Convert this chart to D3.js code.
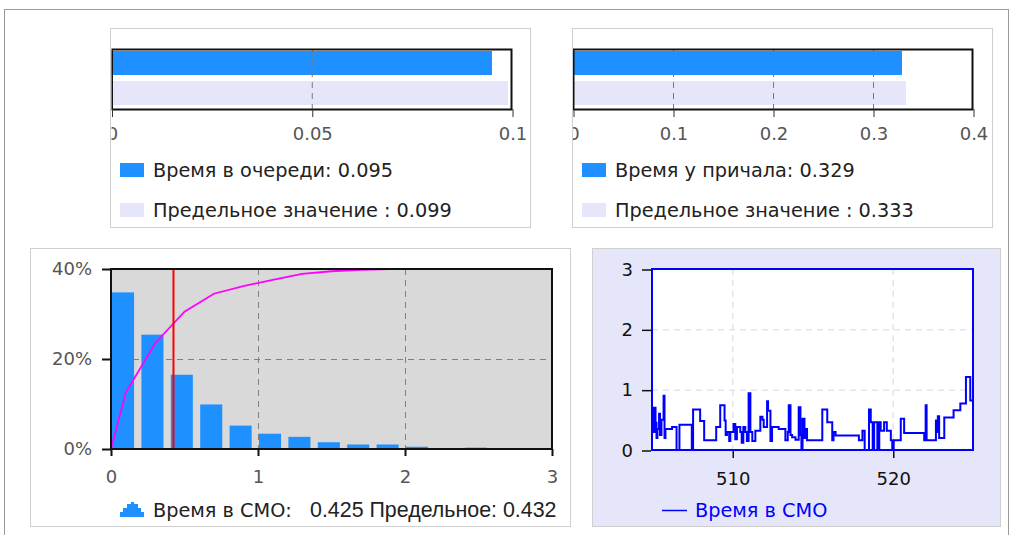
<!DOCTYPE html>
<html><head><meta charset="utf-8">
<script src="https://cdn.jsdelivr.net/npm/d3@7"></script>
<style>
html,body{margin:0;padding:0;background:#fff;}
svg{display:block;}
text{font-family:"DejaVu Sans",sans-serif;}
</style></head>
<body><svg id="c" width="1016" height="535"></svg>
<script>
// ---------- DATA ----------
const queueNames = ["Время в очереди", "Предельное значение "];
const queueValues = [0.095, 0.099];
const queueTicks = [0, 0.05, 0.1];

const berthNames = ["Время у причала", "Предельное значение "];
const berthValues = [0.329, 0.333];
const berthTicks = [0, 0.1, 0.2, 0.3, 0.4];

const histBinStart = [0, 0.2, 0.4, 0.6, 0.8, 1.0, 1.2, 1.4, 1.6, 1.8, 2.0, 2.2, 2.4, 2.6, 2.8];
const histPercent  = [34.8, 25.4, 16.5, 9.9, 5.2, 3.4, 2.7, 1.5, 1.0, 1.0, 0.5, 0, 0.3, 0.2, 0];
const cdfX = [0, 0.1, 0.3, 0.5, 0.7, 0.9, 1.1, 1.3, 1.5, 1.7, 1.9, 2.0];
const cdfY = [0, 12.5, 23.5, 30.5, 34.5, 36.2, 37.6, 38.9, 39.5, 39.8, 40, 40];
const histXTicks = [0, 1, 2, 3];
const histYTicks = [0, 20, 40];
const sojournMean = 0.425;
const sojournLimit = 0.432;

const seriesName = "Время в СМО";
const seriesT = [505.00,505.06,505.16,505.22,505.28,505.34,505.44,505.50,505.59,505.72,505.78,505.84,506.25,506.53,506.71,507.48,507.56,508.00,508.25,509.00,509.25,509.52,509.59,509.67,509.81,509.88,510.08,510.19,510.29,510.50,510.59,510.69,510.81,510.91,511.02,511.13,511.25,511.44,511.75,511.88,511.96,512.17,512.23,512.38,512.48,512.89,513.31,513.46,513.52,513.63,513.73,513.94,514.14,514.25,514.31,514.38,514.50,514.56,514.66,515.61,515.92,516.23,516.31,516.44,517.89,518.11,518.25,518.52,518.63,518.75,518.84,519.04,519.16,519.25,519.46,519.63,519.88,519.97,520.06,520.50,520.71,521.96,522.05,522.11,522.69,522.75,522.81,522.89,523.21,523.79,524.21,524.56,524.83,525.00];
const seriesV = [0.7,0.3,0.7,0.45,0.2,0.35,0.6,0.25,0.5,0.9,0.2,0.35,0.38,0.0,0.42,0.0,0.67,0.48,0.16,0.38,0.74,0.49,0.25,0.3,0.15,0.3,0.43,0.18,0.38,0.3,0.12,0.38,0.3,0.15,0.94,0.3,0.15,0.32,0.55,0.5,0.38,0.81,0.65,0.15,0.38,0.35,0.16,0.3,0.74,0.25,0.21,0.17,0.71,0.25,0.0,0.52,0.2,0.35,0.16,0.67,0.46,0.16,0.3,0.24,0.16,0.32,0.0,0.67,0.46,0.0,0.46,0.0,0.46,0.32,0.46,0.32,0.16,0.0,0.16,0.52,0.28,0.16,0.74,0.16,0.49,0.3,0.56,0.2,0.54,0.66,0.77,1.21,0.82,0.82];
const lineXTicks = [510, 520];
const lineYTicks = [0, 1, 2, 3];

// ---------- DRAW ----------
const svg = d3.select("#c");
const FS = 18, LFS = 19.3;
const BLUE = "#1e90ff", LAV = "#e6e6fa";

svg.append("rect").attr("x",4.5).attr("y",9.5).attr("width",1004).attr("height",540)
  .attr("fill","none").attr("stroke","#9a9a9a");

function barPanel(id, px, names, values, ticks, plot, legendLabels) {
  const g = svg.append("g");
  g.append("rect").attr("x",px.x+0.5).attr("y",px.y+0.5).attr("width",px.w).attr("height",px.h)
    .attr("fill","#fff").attr("stroke","#cfcfcf");
  svg.append("clipPath").attr("id",id).append("rect")
    .attr("x",plot.x0).attr("y",px.y).attr("width",px.x+px.w-plot.x0).attr("height",px.h);
  const cg = g.append("g").attr("clip-path",`url(#${id})`);
  const x = d3.scaleLinear().domain([ticks[0], ticks[ticks.length-1]]).range([plot.x0, plot.x1]);
  const y = d3.scaleBand().domain(names.map((d,i)=>i)).range([plot.y0-1, plot.y1-1]).paddingInner(0.2).paddingOuter(0.1);
  cg.selectAll("rect.bar").data(values).join("rect").attr("class","bar")
    .attr("x",x(0)).attr("y",(d,i)=>y(i)).attr("width",d=>x(d)-x(0)).attr("height",y.bandwidth())
    .attr("fill",(d,i)=>i===0?BLUE:LAV);
  cg.selectAll("line.grid").data(ticks.slice(1,-1)).join("line").attr("class","grid")
    .attr("x1",d=>x(d)+0.5).attr("x2",d=>x(d)+0.5).attr("y1",plot.y0).attr("y2",plot.y1)
    .attr("stroke","#7a7a7a").attr("stroke-dasharray","6,5");
  cg.append("rect").attr("x",plot.x0+0.5).attr("y",plot.y0+0.5).attr("width",plot.x1-plot.x0-1).attr("height",plot.y1-plot.y0)
    .attr("fill","none").attr("stroke","#111").attr("stroke-width",2);
  const ax = cg.append("g").attr("transform",`translate(0.5,${plot.y1})`)
    .call(d3.axisBottom(x).tickValues(ticks).tickFormat(d3.format("~g")).tickSize(8).tickPadding(10));
  ax.select(".domain").remove();
  ax.selectAll("line").attr("stroke","#333");
  ax.selectAll("text").attr("font-size",FS).attr("fill","#555").attr("font-family","DejaVu Sans");
  // legend
  legendLabels.forEach((lab,i)=>{
    const ly = px.y + 135 + i*40;
    g.append("rect").attr("x",px.x+10).attr("y",ly).attr("width",24).attr("height",14).attr("fill",i===0?BLUE:LAV);
    g.append("text").attr("x",px.x+43).attr("y",ly+14).attr("font-size",LFS).attr("fill","#222").text(lab);
  });
}

barPanel("clipQ", {x:110,y:28,w:420,h:199}, queueNames, queueValues, queueTicks,
  {x0:111.5, x1:512, y0:49, y1:109},
  queueNames.map((n,i)=>`${n}: ${d3.format(".3f")(queueValues[i])}`));
barPanel("clipB", {x:572,y:28,w:420,h:199}, berthNames, berthValues, berthTicks,
  {x0:573, x1:973, y0:49, y1:109},
  berthNames.map((n,i)=>`${n}: ${d3.format(".3f")(berthValues[i])}`));

// ---------- HISTOGRAM ----------
(function(){
  const P = {x0:111, x1:552, y0:269, y1:449};
  const g = svg.append("g");
  g.append("rect").attr("x",30.5).attr("y",248.5).attr("width",540).attr("height",278)
    .attr("fill","#fff").attr("stroke","#cfcfcf");
  const x = d3.scaleLinear().domain([0,3]).range([P.x0,P.x1]);
  const y = d3.scaleLinear().domain([0,40]).range([P.y1,P.y0]);
  g.append("rect").attr("x",P.x0).attr("y",P.y0).attr("width",P.x1-P.x0).attr("height",P.y1-P.y0).attr("fill","#d9d9d9");
  // grid
  g.selectAll("line.gx").data([1,2]).join("line").attr("x1",d=>x(d)+0.5).attr("x2",d=>x(d)+0.5)
    .attr("y1",P.y0).attr("y2",P.y1).attr("stroke","#808080").attr("stroke-dasharray","6,5");
  g.selectAll("line.gy").data([20]).join("line").attr("x1",P.x0).attr("x2",P.x1)
    .attr("y1",d=>y(d)+0.5).attr("y2",d=>y(d)+0.5).attr("stroke","#808080").attr("stroke-dasharray","6,5");
  // bars
  const bw = x(0.15)-x(0);
  g.selectAll("rect.bar").data(histPercent).join("rect").attr("class","bar")
    .attr("x",(d,i)=>x(histBinStart[i])+1).attr("width",bw)
    .attr("y",d=>y(d)).attr("height",d=>y(0)-y(d)).attr("fill",BLUE);
  // cdf line
  g.append("path").datum(cdfX.map((v,i)=>[v,cdfY[i]]))
    .attr("d",d3.line().x(d=>x(d[0])).y(d=>y(d[1])))
    .attr("fill","none").attr("stroke","#ff00ff").attr("stroke-width",1.8);
  // mean
  g.append("line").attr("x1",x(sojournMean)).attr("x2",x(sojournMean)).attr("y1",P.y0).attr("y2",P.y1)
    .attr("stroke","#ff0000").attr("stroke-width",2);
  g.append("rect").attr("x",P.x0).attr("y",P.y0).attr("width",P.x1-P.x0).attr("height",P.y1-P.y0)
    .attr("fill","none").attr("stroke","#111").attr("stroke-width",2);
  const ax = g.append("g").attr("transform",`translate(0,${P.y1})`)
    .call(d3.axisBottom(x).tickValues(histXTicks).tickFormat(d3.format("d")).tickSize(7).tickPadding(14));
  ax.select(".domain").remove();
  ax.selectAll("line").attr("stroke","#111").attr("stroke-width",2);
  ax.selectAll("text").attr("font-size",FS).attr("fill","#555").attr("font-family","DejaVu Sans");
  const ay = g.append("g").attr("transform",`translate(${P.x0},0)`)
    .call(d3.axisLeft(y).tickValues(histYTicks).tickFormat(d=>d+"%").tickSize(9).tickPadding(10));
  ay.select(".domain").remove();
  ay.selectAll("line").attr("stroke","#111").attr("stroke-width",2);
  ay.selectAll("text").attr("font-size",FS).attr("fill","#555").attr("font-family","DejaVu Sans");
  // legend
  g.append("path").attr("d","M120,517L120,512L123,512L123,508L127,508L127,504L131,504L131,502L134,502L134,504L138,504L138,508L141,508L141,512L144,512L144,517Z")
    .attr("fill",BLUE);
  g.append("text").attr("x",153).attr("y",517).attr("font-size",LFS).attr("fill","#222").text(seriesName + ":");
  g.append("text").attr("x",310).attr("y",517).attr("font-size",21.4).attr("fill","#222")
    .attr("style","font-family:'Liberation Sans',Arial,sans-serif")
    .text(`${d3.format(".3f")(sojournMean)} Предельное: ${d3.format(".3f")(sojournLimit)}`);
})();

// ---------- LINE CHART ----------
(function(){
  const P = {x0:652, x1:973, y0:269, y1:450};
  const g = svg.append("g");
  g.append("rect").attr("x",592.5).attr("y",248.5).attr("width",408).attr("height",278)
    .attr("fill",LAV).attr("stroke","#cfcfcf");
  const x = d3.scaleLinear().domain([505,525]).range([P.x0,P.x1]);
  const y = d3.scaleLinear().domain([0,3]).range([P.y1,P.y0]);
  g.append("rect").attr("x",P.x0).attr("y",P.y0).attr("width",P.x1-P.x0).attr("height",P.y1-P.y0).attr("fill","#fff");
  g.selectAll("line.gx").data(lineXTicks).join("line").attr("x1",d=>x(d)+0.5).attr("x2",d=>x(d)+0.5)
    .attr("y1",P.y0).attr("y2",P.y1).attr("stroke","#dfe4ee").attr("stroke-width",1.5).attr("stroke-dasharray","6,5");
  g.selectAll("line.gy").data([1,2]).join("line").attr("x1",P.x0).attr("x2",P.x1)
    .attr("y1",d=>y(d)+0.5).attr("y2",d=>y(d)+0.5).attr("stroke","#dfe4ee").attr("stroke-width",1.5).attr("stroke-dasharray","6,5");
  g.append("path").datum(seriesT.map((t,i)=>[t,seriesV[i]]))
    .attr("d",d3.line().x(d=>x(d[0])).y(d=>y(d[1])).curve(d3.curveStepAfter))
    .attr("fill","none").attr("stroke","#0000ff").attr("stroke-width",2);
  g.append("rect").attr("x",P.x0).attr("y",P.y0).attr("width",P.x1-P.x0).attr("height",P.y1-P.y0)
    .attr("fill","none").attr("stroke","#0000ff").attr("stroke-width",2);
  const ax = g.append("g").attr("transform",`translate(0.5,${P.y1+1})`)
    .call(d3.axisBottom(x).tickValues(lineXTicks).tickFormat(d3.format("d")).tickSize(7).tickPadding(14));
  ax.select(".domain").remove();
  ax.selectAll("line").attr("stroke","#111").attr("stroke-width",1.5);
  ax.selectAll("text").attr("font-size",FS).attr("fill","#111").attr("font-family","DejaVu Sans");
  const ay = g.append("g").attr("transform",`translate(${P.x0-1},0.5)`)
    .call(d3.axisLeft(y).tickValues(lineYTicks).tickFormat(d3.format("d")).tickSize(9).tickPadding(9));
  ay.select(".domain").remove();
  ay.selectAll("line").attr("stroke","#111").attr("stroke-width",1.5);
  ay.selectAll("text").attr("font-size",FS).attr("fill","#111").attr("font-family","DejaVu Sans");
  g.append("line").attr("x1",662).attr("x2",687).attr("y1",510.5).attr("y2",510.5).attr("stroke","#0000ff").attr("stroke-width",1.5);
  g.append("text").attr("x",695).attr("y",517).attr("font-size",LFS).attr("fill","#0000ff").text(seriesName);
})();
</script></body></html>
